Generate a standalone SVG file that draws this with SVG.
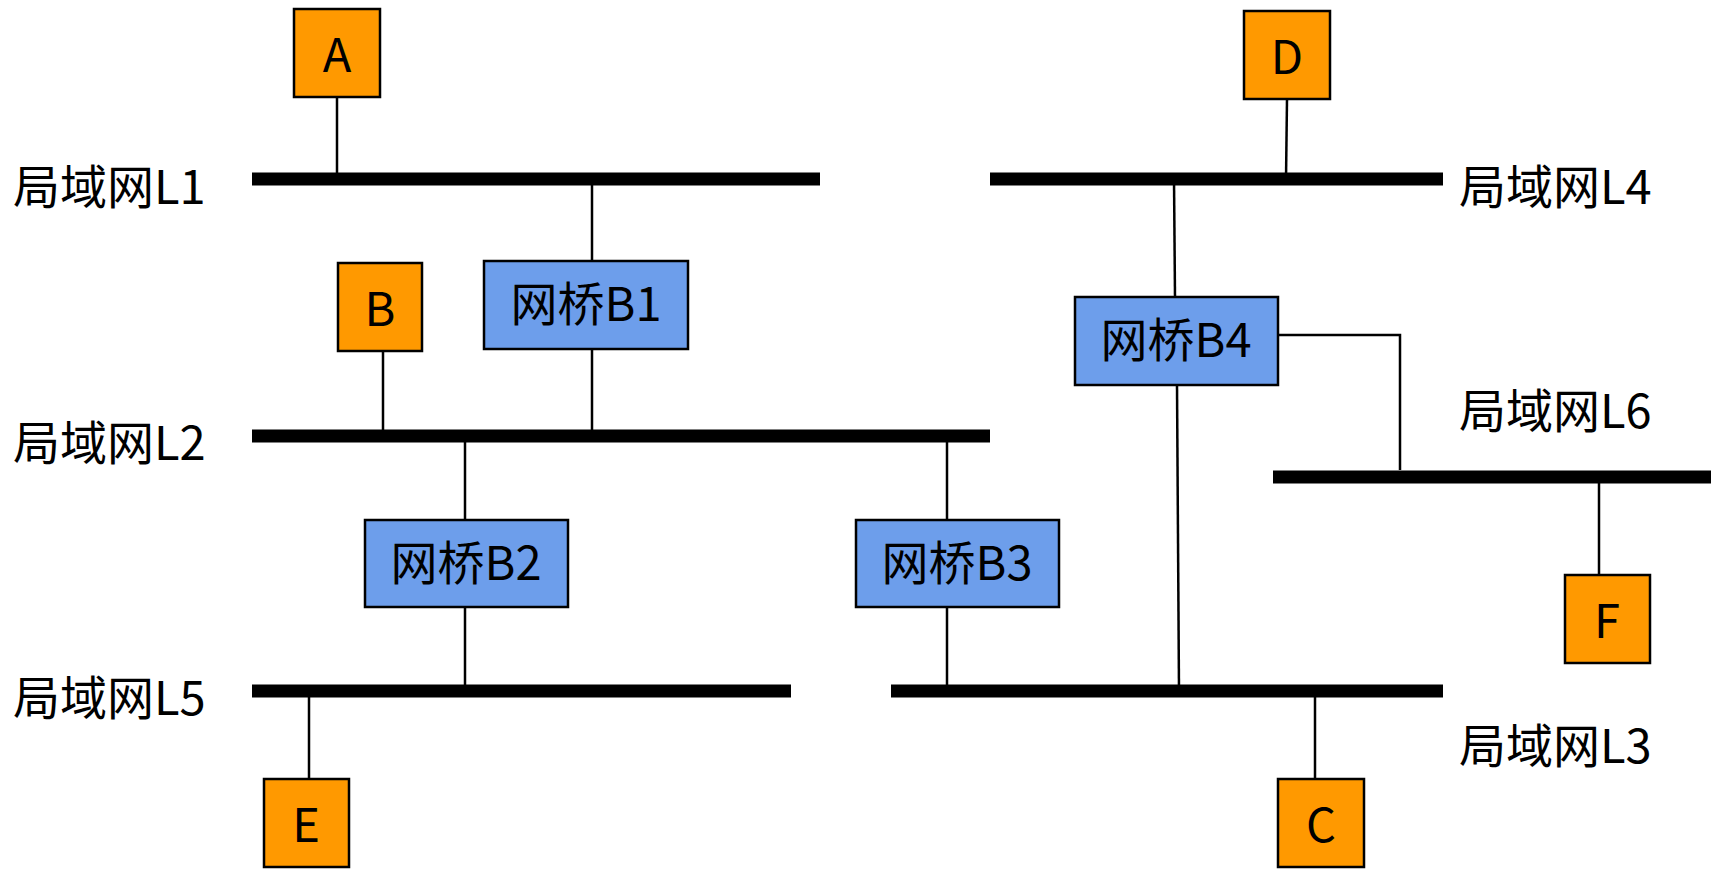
<svg xmlns="http://www.w3.org/2000/svg" width="1720" height="876" viewBox="0 0 1720 876">
<style>
.bus{stroke:#000;stroke-width:13}
.ln{stroke:#000;stroke-width:2.5;fill:none}
.host{fill:#ff9900;stroke:#000;stroke-width:2.5}
.br{fill:#6d9eeb;stroke:#000;stroke-width:2.5}
text{font-family:"Noto Sans CJK SC","Noto Sans",sans-serif;font-size:47px;fill:#000}
.c{text-anchor:middle}
</style>
<rect width="1720" height="876" fill="#fff"/>
<g id="connectors">
<line class="bus" x1="252" y1="179" x2="820" y2="179"/>
<line class="bus" x1="252" y1="436" x2="990" y2="436"/>
<line class="bus" x1="252" y1="691" x2="791" y2="691"/>
<line class="bus" x1="891" y1="691" x2="1443" y2="691"/>
<line class="bus" x1="990" y1="179" x2="1443" y2="179"/>
<line class="bus" x1="1273" y1="477" x2="1711" y2="477"/>
<line class="ln" x1="337" y1="97" x2="337" y2="179"/>
<line class="ln" x1="592" y1="179" x2="592" y2="261"/>
<line class="ln" x1="592" y1="349" x2="592" y2="436"/>
<line class="ln" x1="383" y1="351" x2="383" y2="436"/>
<line class="ln" x1="465" y1="436" x2="465" y2="520"/>
<line class="ln" x1="465" y1="607" x2="465" y2="691"/>
<line class="ln" x1="947" y1="436" x2="947" y2="520"/>
<line class="ln" x1="947" y1="607" x2="947" y2="691"/>
<line class="ln" x1="309" y1="691" x2="309" y2="779"/>
<line class="ln" x1="1315" y1="691" x2="1315" y2="779"/>
<line class="ln" x1="1287" y1="99" x2="1286" y2="179"/>
<line class="ln" x1="1174" y1="179" x2="1175" y2="297"/>
<line class="ln" x1="1177" y1="385" x2="1179" y2="691"/>
<polyline class="ln" points="1278,335 1400,335 1400,470"/>
<line class="ln" x1="1599" y1="477" x2="1599" y2="575"/>
</g>
<g id="A"><rect class="host" x="294" y="9" width="86" height="88"/><text class="c" x="337" y="72">A</text></g>
<g id="B"><rect class="host" x="338" y="263" width="84" height="88"/><text class="c" x="380" y="326">B</text></g>
<g id="C"><rect class="host" x="1278" y="779" width="86" height="88"/><text class="c" x="1321" y="842">C</text></g>
<g id="D"><rect class="host" x="1244" y="11" width="86" height="88"/><text class="c" x="1287" y="74">D</text></g>
<g id="E"><rect class="host" x="264" y="779" width="85" height="88"/><text class="c" x="306" y="842">E</text></g>
<g id="F"><rect class="host" x="1565" y="575" width="85" height="88"/><text class="c" x="1607" y="638">F</text></g>
<g id="B1"><rect class="br" x="484" y="261" width="204" height="88"/><text class="c" x="586" y="321">网桥B1</text></g>
<g id="B2"><rect class="br" x="365" y="520" width="203" height="87"/><text class="c" x="466" y="580">网桥B2</text></g>
<g id="B3"><rect class="br" x="856" y="520" width="203" height="87"/><text class="c" x="957" y="580">网桥B3</text></g>
<g id="B4"><rect class="br" x="1075" y="297" width="203" height="88"/><text class="c" x="1176" y="357">网桥B4</text></g>
<g id="labels">
<text x="13" y="204">局域网L1</text>
<text x="13" y="460">局域网L2</text>
<text x="13" y="715">局域网L5</text>
<text x="1459" y="204">局域网L4</text>
<text x="1459" y="428">局域网L6</text>
<text x="1459" y="763">局域网L3</text>
</g>
</svg>
